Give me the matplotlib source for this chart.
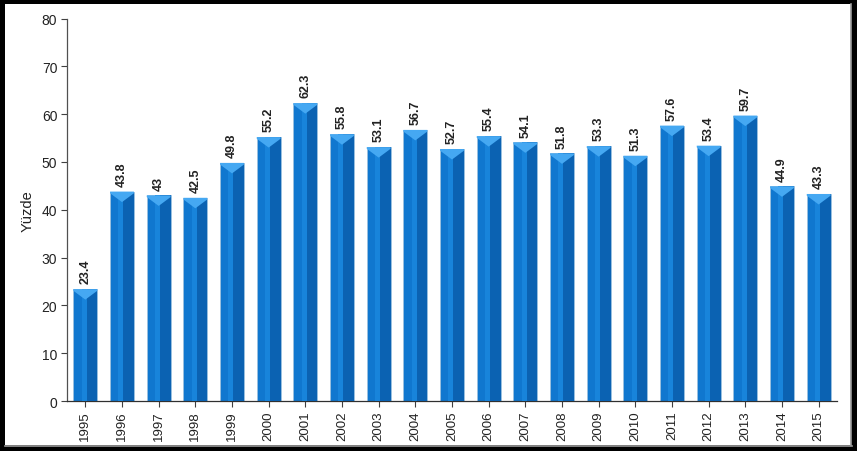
import matplotlib
matplotlib.use("Agg")
import matplotlib.pyplot as plt
from matplotlib.patches import Rectangle, Polygon
from matplotlib.lines import Line2D

plt.rcParams['font.family'] = ['Liberation Sans', 'DejaVu Sans']

years = ['1995', '1996', '1997', '1998', '1999', '2000', '2001', '2002', '2003', '2004',
         '2005', '2006', '2007', '2008', '2009', '2010', '2011', '2012', '2013', '2014', '2015']
values = [23.4, 43.8, 43, 42.5, 49.8, 55.2, 62.3, 55.8, 53.1, 56.7,
          52.7, 55.4, 54.1, 51.8, 53.3, 51.3, 57.6, 53.4, 59.7, 44.9, 43.3]
value_labels = ['23.4', '43.8', '43', '42.5', '49.8', '55.2', '62.3', '55.8', '53.1', '56.7',
                '52.7', '55.4', '54.1', '51.8', '53.3', '51.3', '57.6', '53.4', '59.7', '44.9', '43.3']
yticks = [0, 10, 20, 30, 40, 50, 60, 70, 80]

W, H = 857, 452
fig = plt.figure(figsize=(W / 100, H / 100), dpi=100)
fig.patch.set_facecolor('black')

# white panel with subtle shadow edge
fig.patches.append(Rectangle((5 / W, 1 - 446 / H), 846 / W, 441 / H, transform=fig.transFigure,
                             facecolor='white', edgecolor='none', zorder=-5))
fig.lines.append(Line2D([851 / W, 851 / W], [1 - 446 / H, 1 - 5 / H], transform=fig.transFigure,
                        color='#9a9a9a', lw=1.2, zorder=-4))
fig.lines.append(Line2D([5 / W, 852 / W], [1 - 446.5 / H, 1 - 446.5 / H], transform=fig.transFigure,
                        color='#9a9a9a', lw=1.2, zorder=-4))

ax = fig.add_axes([67 / W, 1 - 402 / H, 770 / W, 382.5 / H])
ax.set_facecolor('none')
ax.set_zorder(2)

x = list(range(len(years)))
bw = 0.65
main_c = '#1077CF'
dark_c = '#0B62B2'
light_c = '#45A8F2'

ax.bar(x, values, width=bw, color=main_c, edgecolor='#9CC0DE', linewidth=0.6, zorder=2)
# darker right portion
ax.bar([xi + bw * 0.25 for xi in x], values, width=bw * 0.5, color=dark_c, edgecolor='none', zorder=3)
# lighter left-middle
ax.bar([xi - bw * 0.05 for xi in x], values, width=bw * 0.2, color='#1884DB', edgecolor='none', zorder=3)
depth = 2.2
for xi, v, lab in zip(x, values, value_labels):
    l, r = xi - bw / 2, xi + bw / 2
    tri = Polygon([(l, v), (r, v), (r, v - 0.35), (xi, v - depth), (l, v - 0.35)], closed=True,
                  facecolor=light_c, edgecolor='none', zorder=4)
    ax.add_patch(tri)
    ax.text(xi, v + 1.2, lab, rotation=90, ha='center', va='bottom',
            fontsize=9, fontweight='bold', color='#222222', zorder=5)

ax.set_xlim(-0.5, len(years) - 0.5)
ax.set_ylim(0, 80)
ax.set_yticks(yticks)
ax.set_yticklabels([str(t) for t in yticks], fontsize=10, color='#222222')
ax.set_xticks(x)
ax.set_xticklabels(years, rotation=90, fontsize=9.5, color='#222222')
ax.tick_params(axis='y', direction='out', length=4, width=0.8, color='#404040', pad=3)
ax.tick_params(axis='x', direction='out', length=4, width=0.8, color='#404040', pad=3)
for s in ['top', 'right']:
    ax.spines[s].set_visible(False)
ax.spines['left'].set_color('#505050')
ax.spines['bottom'].set_color('#303030')
ax.spines['left'].set_linewidth(0.9)
ax.spines['bottom'].set_linewidth(0.9)
ax.set_ylabel('Yüzde', fontsize=10.5, color='#222222', labelpad=5)

fig.savefig('out.png', dpi=100, facecolor=fig.get_facecolor())
